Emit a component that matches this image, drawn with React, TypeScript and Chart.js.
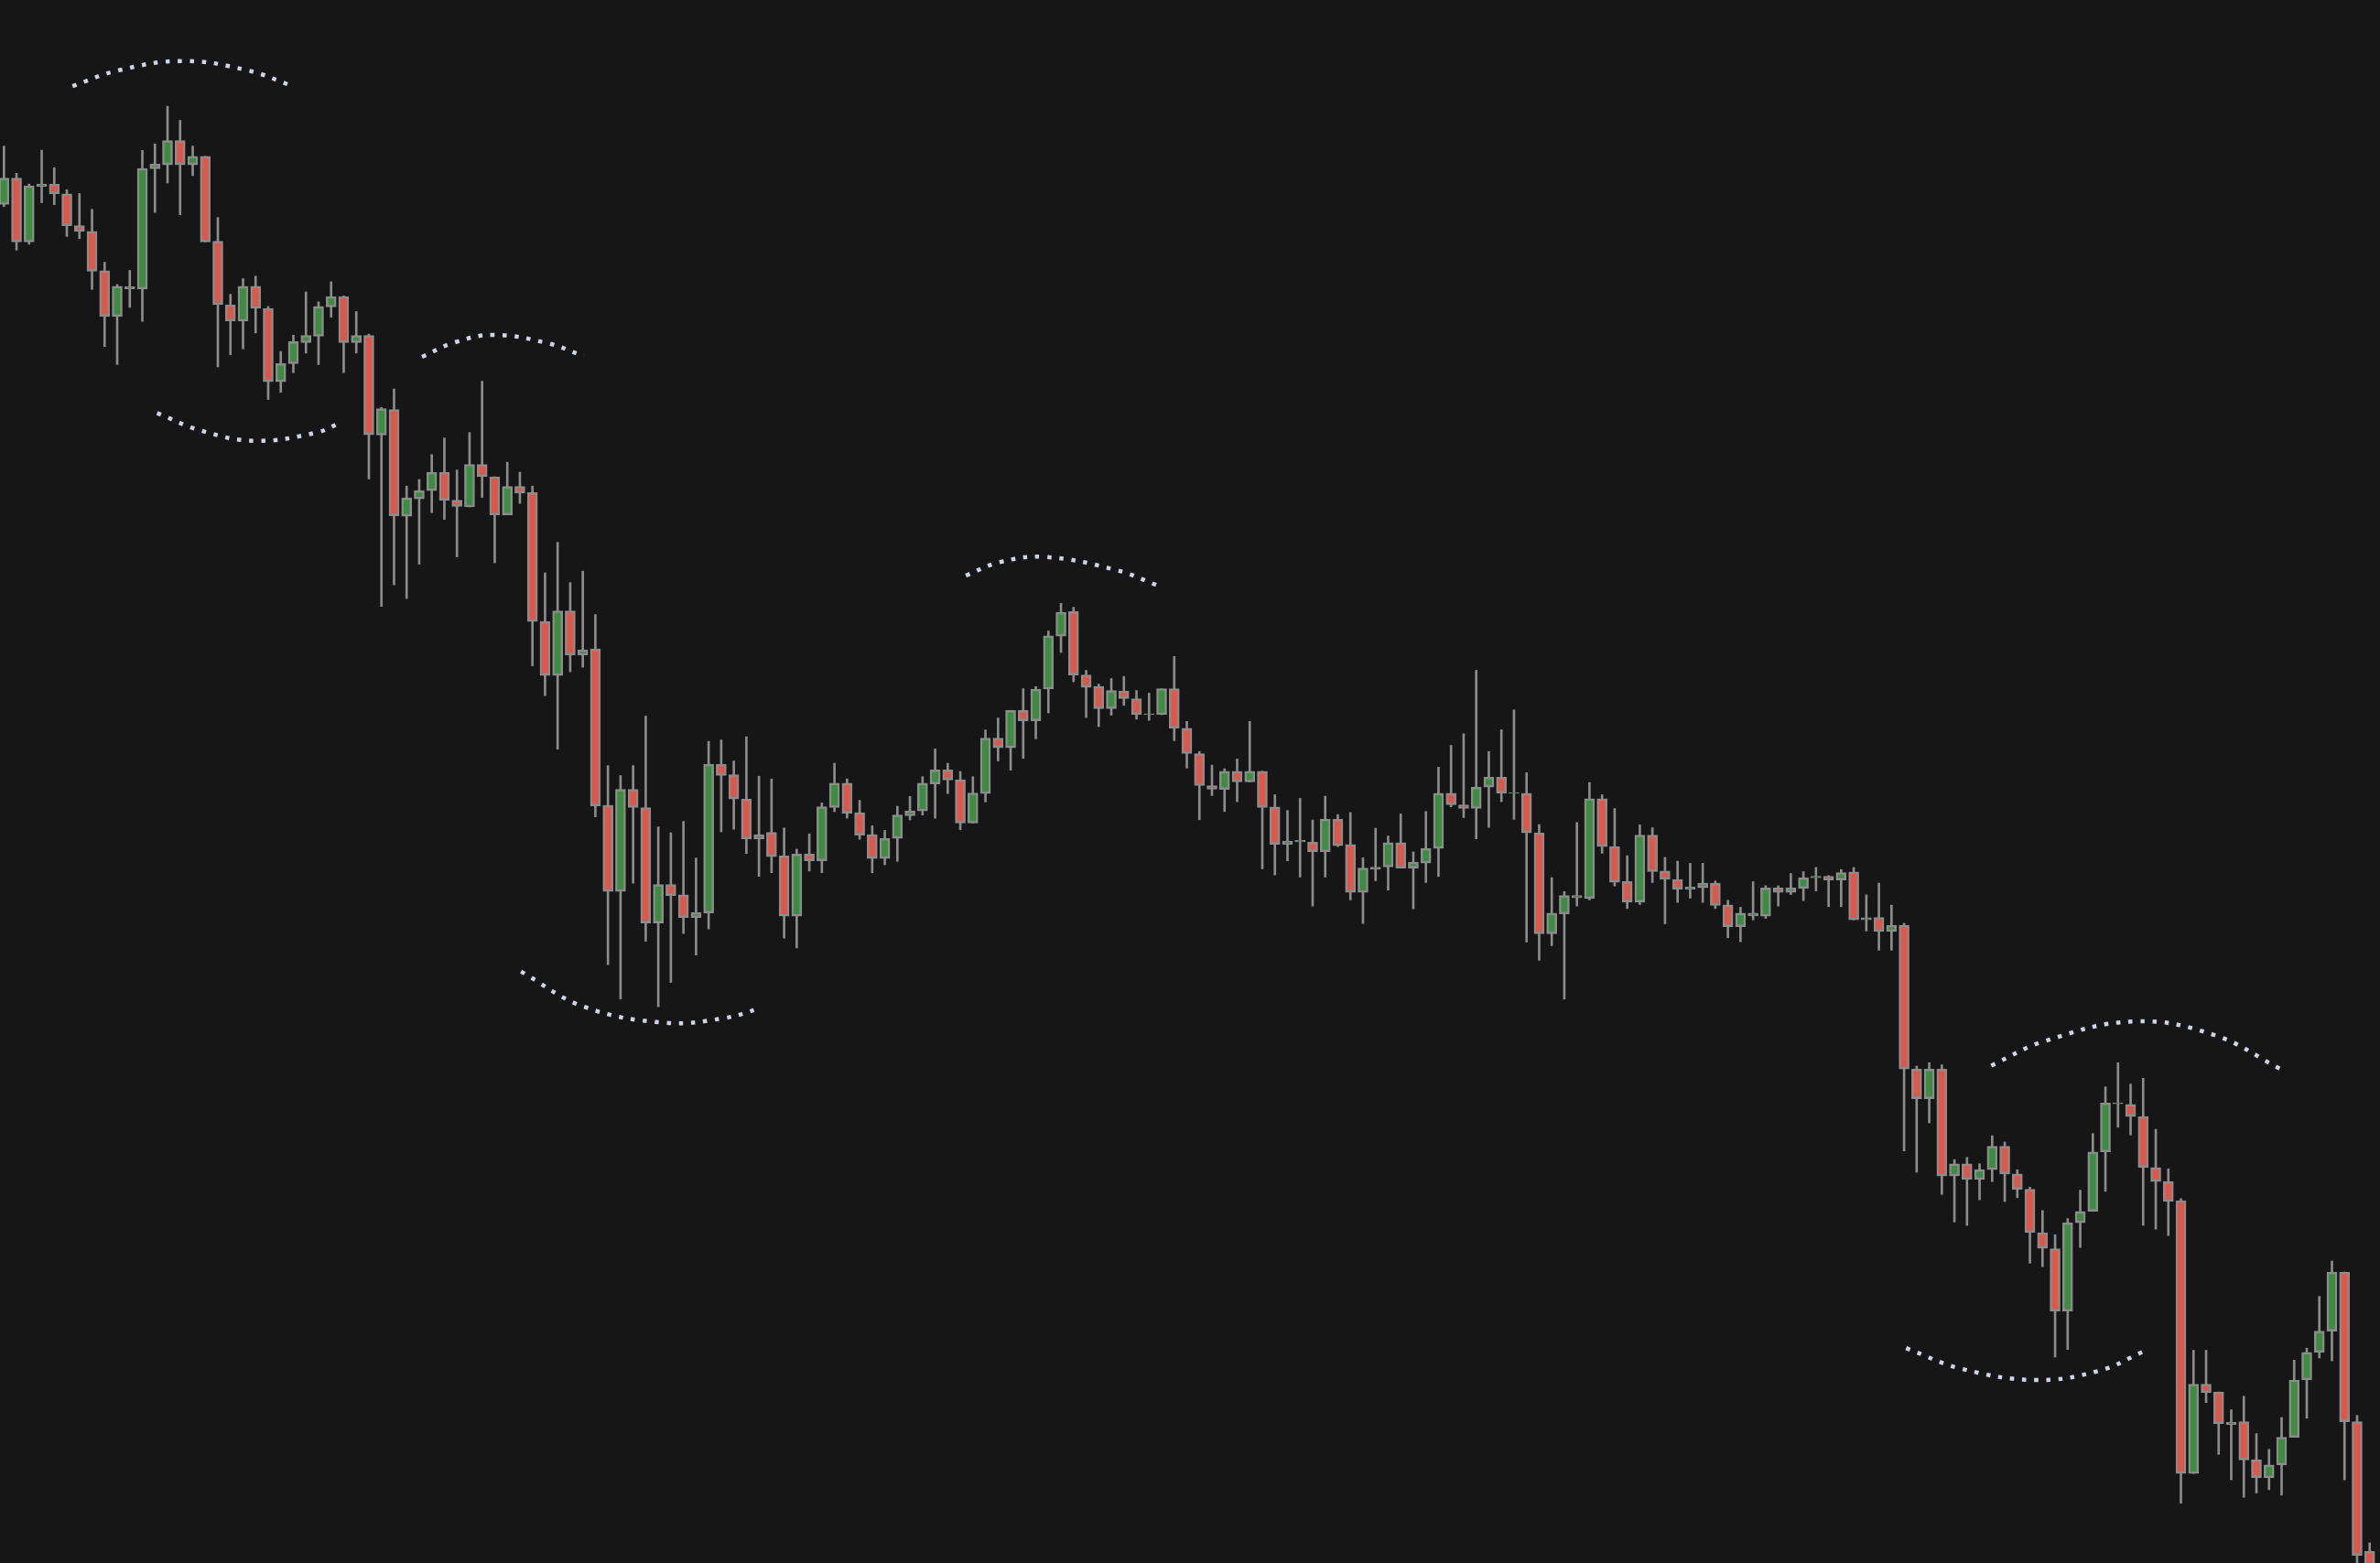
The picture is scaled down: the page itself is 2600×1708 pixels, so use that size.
import React, { useEffect, useRef } from "react";
import { Chart, registerables } from "chart.js";

Chart.register(...registerables);

// ---- candle data (price units) ----
const opens = [
  895.3, 912.6, 870.6, 907.2, 908.7, 902.2, 881.3, 877.5, 851.6, 821.4,
  839.7, 839.5, 918.8, 921.4, 937.4, 921.4, 927, 871, 829.2, 818.4,
  841.3, 826.8, 778.5, 790.4, 804.2, 808.5, 827.7, 834.6, 804.2, 808.9,
  743.3, 760.1, 689.8, 701.3, 706.7, 718.8, 700.4, 695.9, 723.9, 715.8,
  690.7, 709.4, 705.5, 620.5, 584.9, 627.4, 598.2, 602.4, 499.3, 442.6,
  509.9, 497.8, 421.8, 447.1, 440.4, 425.4, 428.4, 526.4, 519.5, 503.5,
  477, 481.5, 466, 426.2, 467.1, 462.8, 497.9, 513.9, 494.4, 480,
  464.3, 477.5, 492.5, 495.6, 513.4, 522.7, 516.2, 487.6, 507, 543.6,
  537.2, 561.9, 555, 575.9, 610.8, 627, 585.2, 577.7, 563, 574.6,
  569.6, 559, 559, 576.1, 550.1, 533.4, 512.3, 509.7, 521.8, 514.7,
  521.8, 498.2, 473.6, 475.2, 475, 468.6, 490.2, 473.5, 441.9, 457.2,
  458.6, 474.7, 457.9, 461.3, 470.9, 507.3, 499.5, 497.3, 511.3, 517.8,
  507.3, 507.3, 481.2, 414.7, 427.8, 438.3, 437.9, 503.7, 472.1, 449,
  435.5, 479.7, 456, 450.5, 444, 445, 448, 433.7, 419.3, 426.4,
  426.2, 444.9, 441.9, 444.5, 451.6, 452.6, 450, 455.4, 423.8, 425.4,
  416.1, 420.2, 325.5, 305.9, 325.5, 255, 263.1, 252.7, 259.2, 274.6,
  256.4, 246.3, 217.7, 207.1, 165.9, 224.2, 231.7, 270.9, 302.7, 302.3,
  294.2, 260.6, 251.3, 238.7, 59, 117.8, 112.7, 91.2, 93.1, 67.9,
  56.2, 64.6, 82.8, 120.6, 138.8, 152.8, 191.7, 93.1, 7.7,
];

const highs = [
  933.7, 915.8, 908.7, 931, 919.5, 905, 902.5, 892.1, 857.2, 842.5,
  851.8, 930.9, 935.2, 960, 950.7, 933.7, 927, 886.7, 836.1, 846.4,
  848, 828.1, 798.4, 809.1, 837.6, 831.1, 844.3, 835, 824.7, 809.8,
  761.5, 773.7, 709.7, 714, 730.5, 741.4, 720.3, 745, 778.8, 715.8,
  725.4, 718.8, 709.7, 652.5, 672.6, 646.1, 653.6, 625, 525.5, 518.9,
  525.5, 558.1, 485.1, 481.2, 488.7, 464.6, 541.5, 542.4, 528.5, 544.5,
  518.5, 516.7, 484.4, 470.4, 480.5, 500.9, 527, 516.7, 502.6, 485.8,
  482.8, 498.7, 505.2, 518.2, 536.5, 527, 521.6, 518.2, 549, 556.9,
  561.9, 576.2, 577.6, 614.2, 632.4, 629.8, 588.2, 579.2, 582.8, 584.3,
  575, 573.2, 576.1, 597.4, 554.6, 534.8, 525.8, 523.4, 529.8, 554.6,
  521.8, 506.3, 495.9, 503.9, 489.6, 505.3, 493.2, 494.6, 464.8, 484.2,
  479.1, 493.6, 468.6, 495.2, 524.4, 538.8, 546.5, 588.3, 534.8, 549.1,
  562.2, 520.8, 486.6, 451.7, 442.5, 488, 514.3, 506.3, 497.2, 466.1,
  486.4, 484.6, 465, 462.5, 461.1, 461.1, 449.4, 436.7, 432.1, 449,
  446.3, 446.3, 454.4, 455.6, 458.4, 453, 457, 458.4, 440.3, 448,
  433.5, 421.6, 327.5, 329.7, 328.3, 265.9, 267.3, 263.1, 281.6, 277.4,
  259.2, 247.7, 232.3, 216.3, 227, 245.7, 283, 313.8, 329.7, 315.7,
  319.4, 285.8, 259.7, 240.1, 140.2, 140.2, 112.7, 101, 109.9, 85.3,
  74.9, 95.9, 133.7, 141.6, 175.7, 199, 191.7, 97.3, 13.3,
];

const lows = [
  893.8, 865.2, 869, 896.4, 895.1, 874.2, 872.7, 839.3, 801.6, 789.8,
  827.5, 818.2, 890, 909.4, 888.5, 914.3, 870.6, 788.2, 796.2, 800.1,
  810.6, 766.7, 771.4, 784.4, 797.3, 789.7, 821, 784.4, 797.3, 714.3,
  630.4, 644.6, 635.6, 658.2, 692.2, 687.7, 663, 695.9, 702.2, 659.1,
  690.7, 698.3, 591.2, 571.6, 536.3, 587.3, 590.3, 491.7, 394.3, 371.7,
  448, 409.7, 366.6, 382.6, 414.8, 400.6, 417.8, 481.8, 483.5, 467.5,
  452.5, 454.9, 411.8, 405.3, 456, 454.9, 495.1, 490.8, 476.9, 454.9,
  460.1, 462.4, 489.7, 492.9, 490.8, 507, 483.2, 487.6, 501.5, 528.5,
  522.5, 530.2, 543.1, 560.2, 600, 580.7, 557.2, 551.2, 558.7, 565.2,
  556.1, 555.3, 559, 541.9, 523.8, 489.8, 505.7, 495.2, 501.7, 514.7,
  457.4, 453.4, 462.7, 452, 432.9, 452, 472.1, 436.9, 421.4, 449.6,
  443.4, 457.9, 431, 448.4, 452.4, 498.3, 491.2, 477.2, 484.8, 501.7,
  490, 409.2, 397.2, 406.8, 371.6, 432.9, 436.9, 467.7, 446.1, 431.3,
  433.9, 448.4, 421.2, 435.3, 438.1, 435.3, 431.3, 412, 409.4, 423.8,
  424.8, 432.9, 440.5, 436.5, 442.9, 432.5, 432.5, 423.8, 416.5, 403.8,
  403.8, 271.5, 257.5, 290, 242.9, 224.7, 222.5, 239.3, 251.3, 238.2,
  240.7, 197.6, 195.3, 135.7, 140.7, 207.9, 231.7, 244.9, 287.2, 282.1,
  222.5, 220, 215.8, 39.4, 59, 105.7, 71.6, 54.8, 43.3, 46.1,
  48.3, 44.7, 82.8, 95.4, 135.1, 133.2, 54.8, -15, -50,
];

const closes = [
  912.6, 870.6, 907.6, 908.7, 902.2, 881.3, 877.5, 851.2, 821.4, 841.3,
  841, 919, 921.9, 937.4, 921.4, 927, 870.6, 829.2, 818.4, 841.3,
  826.8, 778.5, 790.4, 804.8, 808.9, 828.1, 834.6, 804.2, 808.9, 743.4,
  760.7, 690.1, 701.9, 706.7, 718.8, 700.4, 696.2, 723.9, 715.8, 690.7,
  709.4, 705.2, 620.5, 584.9, 627.4, 598.2, 601.8, 498.7, 442.6, 509.9,
  497.8, 421.8, 447.1, 439.8, 425.4, 428.7, 526.4, 518.9, 503.5, 477,
  480, 465.4, 426.2, 467.1, 462.8, 498.4, 513.9, 494, 479.6, 464.3,
  477.5, 493, 495.6, 513.9, 522.7, 516, 487.6, 507.4, 543.6, 537.2,
  561.9, 555, 575.9, 611, 626.5, 585.2, 577, 563, 574.9, 569.6,
  559, 559.6, 576.1, 550.1, 533.4, 512.3, 509.9, 521.8, 514.7, 521.8,
  497.8, 473.6, 475.8, 476.2, 468.6, 490.2, 472.7, 441.9, 457.9, 458.5,
  474.7, 457.9, 461.9, 470.9, 507.3, 499.7, 497.3, 511.3, 517.8, 507.3,
  507.7, 481.2, 414.7, 428.2, 439.9, 439.9, 503.7, 472.1, 448.6, 435.5,
  479.7, 455.6, 450.5, 444, 445.4, 448, 433.3, 419.3, 428.2, 428.2,
  444.9, 441.9, 444.9, 451.6, 452.6, 450, 455, 423.8, 425.2, 416.1,
  420.2, 325.5, 305.9, 325.5, 255, 263.1, 252.7, 259.2, 274.6, 256.4,
  246.3, 217.7, 207.4, 165.9, 224.2, 231.7, 270.9, 303.1, 303.1, 294.2,
  260.6, 251.3, 238.2, 59, 117.8, 112.2, 91.7, 92.6, 67.9, 56.2,
  64.6, 82.8, 120.6, 138.8, 152.8, 191.7, 93.1, 5, -30,
];

// ---- dotted arcs: anchor points (bar index, price) ----
const arc1X = [5.45, 9.14, 14.23, 19.32, 23.1];
const arc1Y = [973.3, 983.7, 989.8, 983.7, 972.8];
const arc2X = [12.17, 15.69, 19.95, 24.91, 26.85];
const arc2Y = [757.8, 746.2, 739.5, 745.1, 752.0];
const arc3X = [33.22, 35.83, 38.97, 43.22, 46.1];
const arc3Y = [794.8, 804.4, 809.3, 803.8, 795.2];
const arc4X = [41.09, 46.08, 52.56, 57.17, 60.15];
const arc4Y = [389.8, 366.6, 356, 359, 365.6];
const arc5X = [76.44, 79.11, 82.68, 88.32, 92.1];
const arc5Y = [650.7, 659.5, 663, 654.5, 642.8];
const arc6X = [157.93, 162.1, 169.29, 175.66, 180.9];
const arc6Y = [327.8, 343.7, 356.9, 347.9, 325.6];
const arc7X = [151.16, 155.52, 161.46, 166.51, 170.0];
const arc7Y = [141.6, 128.1, 120.6, 126.7, 139.3];

const arcXs = [arc1X, arc2X, arc3X, arc4X, arc5X, arc6X, arc7X];
const arcYs = [arc1Y, arc2Y, arc3Y, arc4Y, arc5Y, arc6Y, arc7Y];

// ---- styling ----
const BG = "#161616";
const UP = "#3b8d3f";
const DOWN = "#e0574a";
const EDGE = "#8c8c8c";
const DOTS = "#d0d4ea";
const W = 2600;
const H = 1708;

export default function App() {
  const ref = useRef<HTMLCanvasElement | null>(null);

  useEffect(() => {
    document.body.style.margin = "0";
    document.body.style.background = BG;
    const canvas = ref.current;
    if (!canvas) return;

    const idx = opens.map((_, i) => i);
    const bodies = idx.map((i) => ({ x: i, y: [opens[i], closes[i]] }));
    const wicks = idx.map((i) => ({ x: i, y: [lows[i], highs[i]] }));
    const bodyColors = idx.map((i) => (closes[i] >= opens[i] ? UP : DOWN));

    const arcSets = arcXs.map((xs, a) => ({
      type: "line" as const,
      data: xs.map((x, k) => ({ x, y: arcYs[a][k] })),
      borderColor: DOTS,
      borderWidth: 4.5,
      borderDash: [4.5, 8.7],
      borderCapStyle: "butt" as const,
      tension: 0.4,
      pointRadius: 0,
      fill: false,
      order: 0,
    }));

    const chart = new Chart(canvas, {
      type: "bar",
      data: {
        datasets: [
          {
            type: "bar",
            data: bodies as any,
            backgroundColor: bodyColors,
            borderColor: EDGE,
            borderWidth: 2.5,
            borderSkipped: false,
            barThickness: 11,
            grouped: false,
            order: 1,
          },
          {
            type: "bar",
            data: wicks as any,
            backgroundColor: EDGE,
            borderWidth: 0,
            barThickness: 2,
            grouped: false,
            order: 2,
          },
          ...(arcSets as any[]),
        ],
      },
      options: {
        animation: false,
        responsive: false,
        maintainAspectRatio: false,
        devicePixelRatio: 1,
        events: [],
        layout: { padding: 0 },
        plugins: {
          legend: { display: false },
          tooltip: { enabled: false },
          title: { display: false },
        },
        scales: {
          x: {
            type: "linear",
            min: -0.313,
            max: 188.82,
            offset: false,
            display: false,
            grid: { display: false },
          },
          y: {
            type: "linear",
            min: 0,
            max: 1030,
            display: false,
            grid: { display: false },
          },
        },
      },
    });

    return () => chart.destroy();
  }, []);

  return (
    <div
      style={{
        position: "fixed",
        left: 0,
        top: 0,
        width: W + "px",
        height: H + "px",
        background: BG,
        overflow: "hidden",
      }}
    >
      <canvas
        ref={ref}
        width={W}
        height={H}
        style={{ display: "block", width: W + "px", height: H + "px" }}
      />
    </div>
  );
}
